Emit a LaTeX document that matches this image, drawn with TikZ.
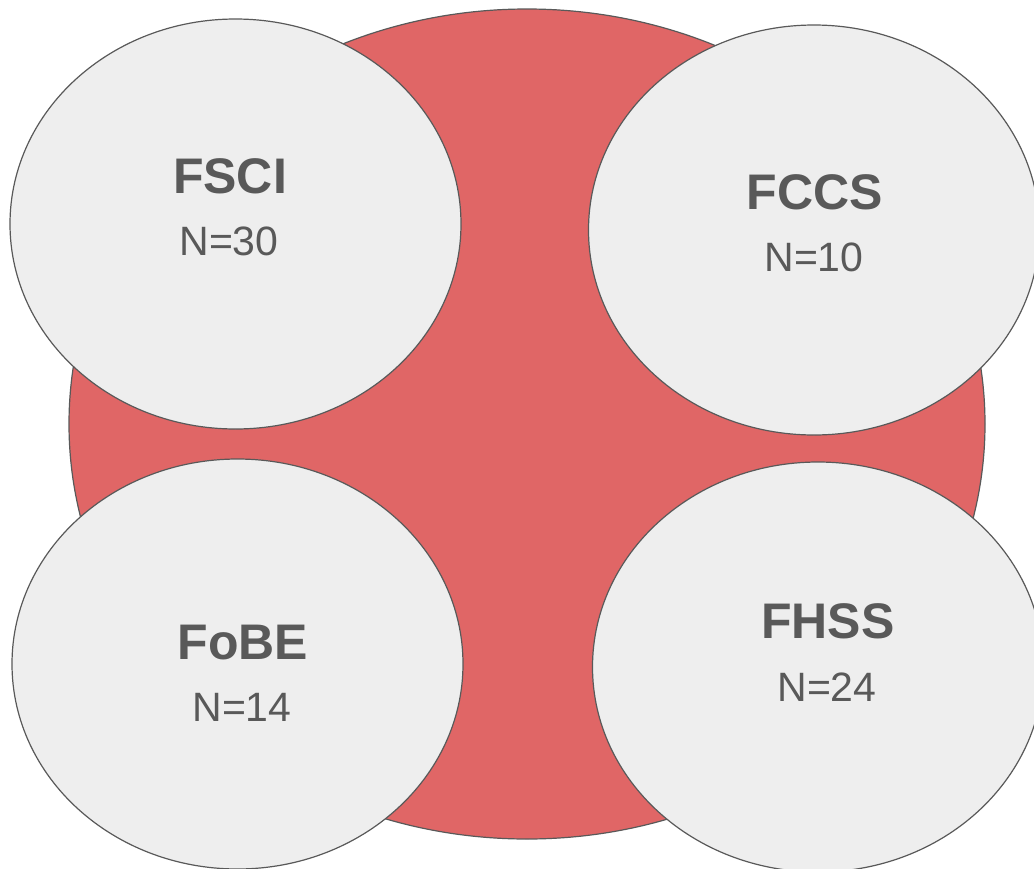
\documentclass[tikz,border=0pt]{standalone}
\usepackage{fontspec}
\setmainfont{Liberation Sans}
\usetikzlibrary{shapes,positioning}
\definecolor{redfill}{HTML}{E06666}
\definecolor{greyfill}{HTML}{EEEEEE}
\definecolor{greyline}{HTML}{595959}

\begin{document}
\begin{tikzpicture}[% styles for all faculty circles and their labels
			x=1pt,y=-1pt,
			every node/.style={
				inner sep=0pt,		% text sits exactly on its base point
				outer sep=0pt
			},
			blob/.style={ellipse,draw=greyline,line width=1.2pt,fill=greyfill,
				minimum width=451pt,minimum height=410pt},
			title/.style={anchor=base,text=greyline,font=\bfseries\fontsize{50}{60}\selectfont},
			count/.style={anchor=base,text=greyline,font=\fontsize{41}{50}\selectfont}
		]
		\useasboundingbox (0,0) rectangle (1034,868);
		\node[ellipse,draw=greyline,line width=1.2pt,fill=redfill,
			minimum width=916pt,minimum height=830pt](Uni) at (527,424){};
		\node[blob](FSCI) at (235.5,224){};
		\node[blob](FCCS) at (814,230){};
		\node[blob](FoBE) at (237.5,664){};
		\node[blob](FHSS) at (818,667){};
		\node[title](T1) at (230,193){FSCI};
		\node[count](N1) at (229,255){N=30};
		\node[title](T2) at (815,209){FCCS};
		\node[count](N2) at (814,271){N=10};
		\node[title](T3) at (243,659){FoBE};
		\node[count](N3) at (242,721){N=14};
		\node[title](T4) at (828,638){FHSS};
		\node[count](N4) at (827,701){N=24};
	\end{tikzpicture}
\end{document}
